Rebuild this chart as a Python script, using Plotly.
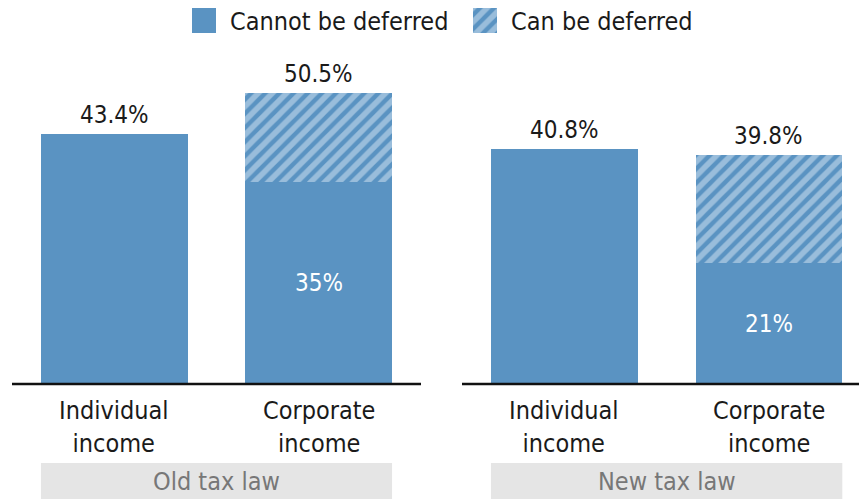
import plotly.graph_objects as go

panels = ["Old tax law", "New tax law"]
categories = ["Individual<br>income", "Corporate<br>income"]
cannot_defer = {"Old tax law": [43.4, 35.0], "New tax law": [40.8, 21.0]}
can_defer = {"Old tax law": [0.0, 15.5], "New tax law": [0.0, 18.8]}
totals = {"Old tax law": ["43.4%", "50.5%"], "New tax law": ["40.8%", "39.8%"]}
inner_labels = {"Old tax law": [None, "35%"], "New tax law": [None, "21%"]}
legend_labels = ["Cannot be deferred", "Can be deferred"]

W, H = 859, 501
BLUE = "#5a93c2"
HATCH_FG = "#d8e7f4"
FONT = "DejaVu Sans Condensed, sans-serif"
TXT = "#1a1a1a"
PAT = dict(shape="/", fgcolor=HATCH_FG, bgcolor=BLUE, size=10, solidity=0.55, fillmode="overlay")

fig = go.Figure()

base_px = 384
ydom0 = (H - base_px) / H
ymax = base_px / 5.76

xdoms = [[12 / W, 421 / W], [462 / W, 1.0]]
xranges = [[-0.5, 1.5], [-0.5, 1.44]]
xs = [0, 1]
bw = 0.717

for i, p in enumerate(panels):
    xa = "x" if i == 0 else "x2"
    ya = "y" if i == 0 else "y2"
    fig.add_trace(go.Bar(x=xs, y=cannot_defer[p], width=bw, marker=dict(color=BLUE, line=dict(width=0)),
                         xaxis=xa, yaxis=ya, showlegend=False, hoverinfo="skip"))
    fig.add_trace(go.Bar(x=xs, y=can_defer[p], width=bw,
                         marker=dict(color=BLUE, line=dict(width=0), pattern=PAT),
                         xaxis=xa, yaxis=ya, showlegend=False, hoverinfo="skip"))
    for j, x in enumerate(xs):
        tot = cannot_defer[p][j] + can_defer[p][j]
        fig.add_annotation(x=x, y=tot, xref=xa, yref=ya, text=totals[p][j], showarrow=False,
                           yanchor="bottom", yshift=3, font=dict(family=FONT, size=24, color=TXT))
        if inner_labels[p][j]:
            fig.add_annotation(x=x, y=cannot_defer[p][j] / 2, xref=xa, yref=ya, text=inner_labels[p][j],
                               showarrow=False, yanchor="middle", font=dict(family=FONT, size=24, color="white"))
        fig.add_annotation(x=x, y=0, xref=xa, yref=ya, text=categories[j], showarrow=False,
                           yanchor="top", yshift=-10, font=dict(family=FONT, size=25, color=TXT))
    # gray band for panel label
    fig.add_shape(type="rect", xref=xa, yref="paper", x0=-bw / 2, x1=1 + bw / 2,
                  y0=(H - 499) / H, y1=(H - 463) / H, fillcolor="#e5e5e5", line=dict(width=0), layer="below")
    fig.add_annotation(x=0.5, y=(H - 481) / H, xref=xa, yref="paper", text=p, showarrow=False,
                       yanchor="middle", font=dict(family=FONT, size=25, color="#777777"))

# legend swatches (third axis in pixel space)
leg_x = [204, 485]
fig.add_trace(go.Bar(x=[leg_x[0]], y=[25], base=[H - 33], width=24, marker=dict(color=BLUE, line=dict(width=0)),
                     xaxis="x3", yaxis="y3", showlegend=False, hoverinfo="skip"))
fig.add_trace(go.Bar(x=[leg_x[1]], y=[25], base=[H - 33], width=24,
                     marker=dict(color=BLUE, line=dict(width=0), pattern=PAT),
                     xaxis="x3", yaxis="y3", showlegend=False, hoverinfo="skip"))
for lx, lab in zip(leg_x, legend_labels):
    fig.add_annotation(x=lx + 24, y=H - 21, xref="x3", yref="y3", text=lab, showarrow=False,
                       xanchor="left", yanchor="middle", font=dict(family=FONT, size=25, color=TXT))

axis_common = dict(showgrid=False, zeroline=False, showticklabels=False, ticks="", fixedrange=True)
fig.update_layout(
    width=W, height=H, margin=dict(l=0, r=0, t=0, b=0),
    paper_bgcolor="white", plot_bgcolor="rgba(0,0,0,0)",
    barmode="stack", bargap=0,
    xaxis=dict(domain=xdoms[0], range=xranges[0], showline=False, **axis_common),
    xaxis2=dict(domain=xdoms[1], range=xranges[1], showline=False, **axis_common),
    yaxis=dict(domain=[ydom0, 1], range=[0, ymax], showline=False, **axis_common),
    yaxis2=dict(domain=[ydom0, 1], range=[0, ymax], anchor="x2", showline=False, **axis_common),
    xaxis3=dict(domain=[0, 1], range=[0, W], anchor="y3", visible=False, fixedrange=True),
    yaxis3=dict(domain=[0, 1], range=[0, H], anchor="x3", visible=False, fixedrange=True),
)
for d in xdoms:
    fig.add_shape(type="line", xref="paper", yref="paper", x0=d[0], x1=d[1], y0=ydom0, y1=ydom0,
                  line=dict(color="#111111", width=2.5))

fig.write_html("out.html")
